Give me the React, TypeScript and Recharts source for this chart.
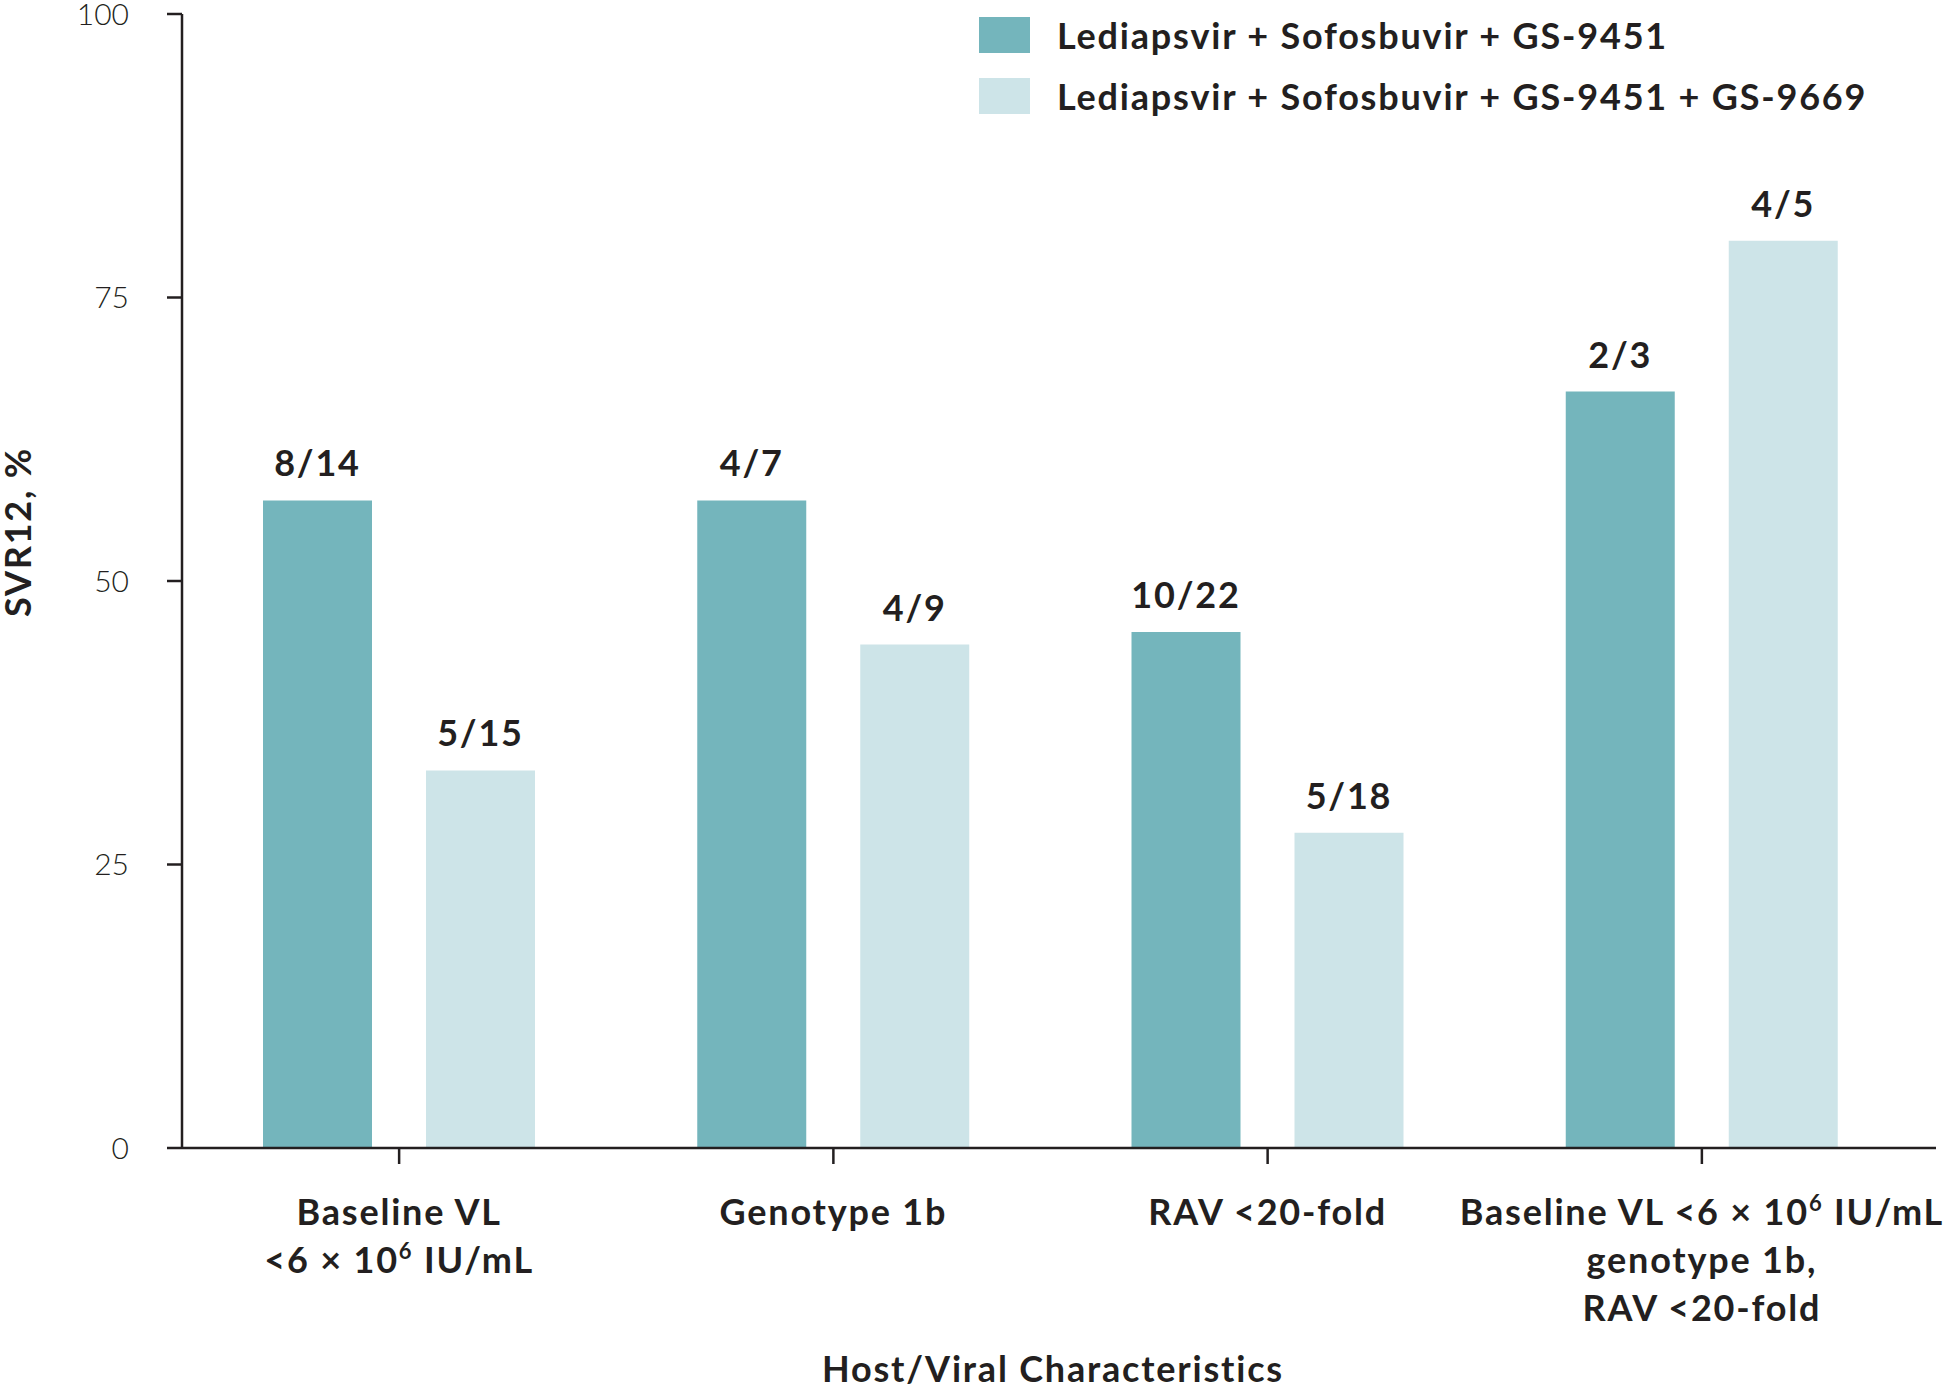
import React from 'react';
import { BarChart, Bar, XAxis, YAxis, Legend, LabelList, Label } from 'recharts';

// Categories on the x axis ("^" marks a superscript)
const categories = [
  ['Baseline VL', '<6 × 10^6 IU/mL'],
  ['Genotype 1b'],
  ['RAV <20-fold'],
  ['Baseline VL <6 × 10^6 IU/mL', 'genotype 1b,', 'RAV <20-fold'],
];

// SVR12 (%) per arm
const threeDrug = [57.1, 57.1, 45.5, 66.7];
const fourDrug = [33.3, 44.4, 27.8, 80.0];

// n/N shown above each bar
const threeDrugLabels = ['8/14', '4/7', '10/22', '2/3'];
const fourDrugLabels = ['5/15', '4/9', '5/18', '4/5'];

const seriesNames = [
  'Lediapsvir + Sofosbuvir + GS-9451',
  'Lediapsvir + Sofosbuvir + GS-9451 + GS-9669',
];

const yTicks = [0, 25, 50, 75, 100];

const FONT = 'Lato, "Open Sans", sans-serif';
const INK = '#231f20';
const DARK = '#74b5bc';
const LIGHT = '#cde4e8';
const SIZE = 36;
const SPACING = 1.8;

const data = categories.map((lines, i) => ({
  name: lines.join(' '),
  threeDrug: threeDrug[i],
  fourDrug: fourDrug[i],
  threeDrugLabel: threeDrugLabels[i],
  fourDrugLabel: fourDrugLabels[i],
}));

const renderLine = (line: string) => {
  const [pre, rest] = line.split('^');
  if (rest === undefined) return pre;
  return (
    <>
      {pre}
      <tspan dy={-14} fontSize={22}>{rest[0]}</tspan>
      <tspan dy={14}>{rest.slice(1)}</tspan>
    </>
  );
};

const CategoryTick = (props: any) => {
  const { x, y, payload } = props;
  const lines = categories[payload.index] || [];
  return (
    <g transform={`translate(${x},${y})`}>
      <text
        textAnchor="middle"
        fontFamily={FONT}
        fontWeight={700}
        fontSize={SIZE}
        letterSpacing={SPACING}
        fill={INK}
      >
        {lines.map((line, i) => (
          <tspan key={i} x={0} y={59 + i * 48}>
            {renderLine(line)}
          </tspan>
        ))}
      </text>
    </g>
  );
};

const YTitle = (props: any) => {
  const { viewBox } = props;
  const cx = viewBox.x + 17;
  const cy = viewBox.y + viewBox.height / 2 - 49;
  return (
    <text
      x={cx}
      y={cy}
      transform={`rotate(-90, ${cx}, ${cy})`}
      textAnchor="middle"
      dominantBaseline="central"
      fontFamily={FONT}
      fontWeight={700}
      fontSize={SIZE}
      letterSpacing={SPACING}
      fill={INK}
    >
      SVR12, %
    </text>
  );
};

const renderLegend = (props: any) => {
  const { payload } = props;
  return (
    <div style={{ fontFamily: FONT }}>
      {(payload || []).map((entry: any, i: number) => (
        <div key={i} style={{ display: 'flex', alignItems: 'center', height: 61 }}>
          <div style={{ width: 51, height: 36, background: entry.color, marginRight: 27 }} />
          <span
            style={{
              fontSize: SIZE,
              fontWeight: 700,
              letterSpacing: SPACING,
              color: INK,
              whiteSpace: 'nowrap',
            }}
          >
            {entry.value}
          </span>
        </div>
      ))}
    </div>
  );
};

const barLabelStyle = {
  fontFamily: FONT,
  fontWeight: 700,
  fontSize: SIZE,
  letterSpacing: SPACING,
  fill: INK,
};

const App: React.FC = () => {
  return (
    <div style={{ position: 'absolute', left: 0, top: 0, width: 1950, height: 1386, background: '#fff' }}>
      <BarChart
        width={1950}
        height={1386}
        data={data}
        margin={{ top: 14, right: 14, left: 0, bottom: 0 }}
        barSize={109}
        barGap={54}
      >
        <XAxis
          dataKey="name"
          height={238}
          axisLine={{ stroke: INK, strokeWidth: 2.5 }}
          tickLine={{ stroke: INK, strokeWidth: 2.5 }}
          tickSize={16}
          tick={<CategoryTick />}
          padding={{ left: 0, right: 17 }}
          interval={0}
        >
          <Label
            value="Host/Viral Characteristics"
            position="insideBottom"
            offset={4}
            dx={-6}
            fontFamily={FONT}
            fontWeight={700}
            fontSize={SIZE}
            letterSpacing={SPACING}
            style={{ letterSpacing: SPACING }}
            fill={INK}
          />
        </XAxis>
        <YAxis
          width={182}
          domain={[0, 100]}
          ticks={yTicks}
          interval={0}
          axisLine={{ stroke: INK, strokeWidth: 2.5 }}
          tickLine={{ stroke: INK, strokeWidth: 2.5 }}
          tickSize={15}
          tickMargin={38}
          tick={{ fontFamily: FONT, fontWeight: 300, fontSize: 30, fill: INK }}
          label={<YTitle />}
        />
        <Legend
          layout="vertical"
          align="center"
          verticalAlign="middle"
          content={renderLegend}
          wrapperStyle={{ top: 4, left: 979, width: 960, height: 122 }}
        />
        <Bar dataKey="threeDrug" name={seriesNames[0]} fill={DARK} isAnimationActive={false}>
          <LabelList
            dataKey="threeDrugLabel"
            position="top"
            offset={24}
            {...barLabelStyle}
            style={{ letterSpacing: SPACING }}
          />
        </Bar>
        <Bar dataKey="fourDrug" name={seriesNames[1]} fill={LIGHT} isAnimationActive={false}>
          <LabelList
            dataKey="fourDrugLabel"
            position="top"
            offset={24}
            {...barLabelStyle}
            style={{ letterSpacing: SPACING }}
          />
        </Bar>
      </BarChart>
    </div>
  );
};

export default App;
